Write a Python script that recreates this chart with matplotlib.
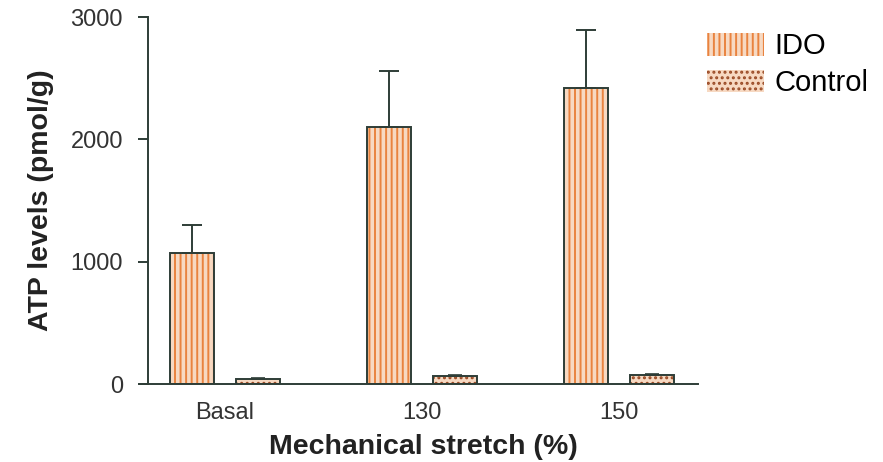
import numpy as np
import matplotlib.pyplot as plt
from matplotlib.patches import Patch

plt.rcParams['font.family'] = ['Liberation Sans', 'DejaVu Sans']
plt.rcParams['hatch.linewidth'] = 1.4

groups = ['Basal', '130', '150']
ido = [1070, 2100, 2420]
ido_err = [230, 455, 475]
control = [45, 65, 75]
control_err = [5, 8, 10]

line_col = '#2e3d37'
x = np.arange(len(groups))
w = 0.223
off = 0.169

fig = plt.figure(figsize=(8.83, 4.62), dpi=100)
ax = fig.add_axes([0.1676, 0.1688, 0.6229, 0.7944])

# filled hatched bars (hatch colour = edgecolor), then dark outlines on top
ax.bar(x - off, ido, w, color='#f7d9c2', edgecolor='#e9833f', hatch='|||', linewidth=0)
ax.bar(x + off, control, w, color='#f7d9c2', edgecolor='#9a4a25', hatch='...', linewidth=0)
ax.bar(x - off, ido, w, fill=False, edgecolor=line_col, linewidth=1.4)
ax.bar(x + off, control, w, fill=False, edgecolor=line_col, linewidth=1.4)

ax.errorbar(x - off, ido, yerr=[np.zeros(3), ido_err], fmt='none', ecolor=line_col,
            elinewidth=1.4, capsize=7, capthick=1.4)
ax.errorbar(x + off, control, yerr=[np.zeros(3), control_err], fmt='none', ecolor=line_col,
            elinewidth=1.2, capsize=5, capthick=1.2)

ax.set_xlim(-0.39, 2.40)
ax.set_ylim(0, 3000)
ax.set_yticks([0, 1000, 2000, 3000])
ax.set_xticks(x)
ax.set_xticklabels(groups)
ax.tick_params(axis='y', length=7, width=1.4, color=line_col, labelsize=17, labelcolor='#333333', pad=11)
ax.tick_params(axis='x', length=0, labelsize=17, labelcolor='#333333', pad=13)
for s in ['top', 'right']:
    ax.spines[s].set_visible(False)
for s in ['left', 'bottom']:
    ax.spines[s].set_color(line_col)
    ax.spines[s].set_linewidth(1.4)
ax.spines['bottom'].set_bounds(-0.43, 2.40)

ax.set_ylabel('ATP levels (pmol/g)', fontsize=20.5, fontweight='bold', color='#222222', labelpad=12)
ax.set_xlabel('Mechanical stretch (%)', fontsize=20.5, fontweight='bold', color='#222222', labelpad=7)

h1 = Patch(facecolor='#f7d9c2', edgecolor='#e9833f', hatch='|||', linewidth=0)
h2 = Patch(facecolor='#f7d9c2', edgecolor='#9a4a25', hatch='...', linewidth=0)
fig.legend([h1, h2], ['IDO', 'Control'], loc='upper left', bbox_to_anchor=(0.801, 0.93),
           frameon=False, fontsize=21, handlelength=1.95, handleheight=0.82,
           handletextpad=0.34, labelspacing=0.3, borderpad=0.0, borderaxespad=0)

fig.savefig('out.png', dpi=100)
